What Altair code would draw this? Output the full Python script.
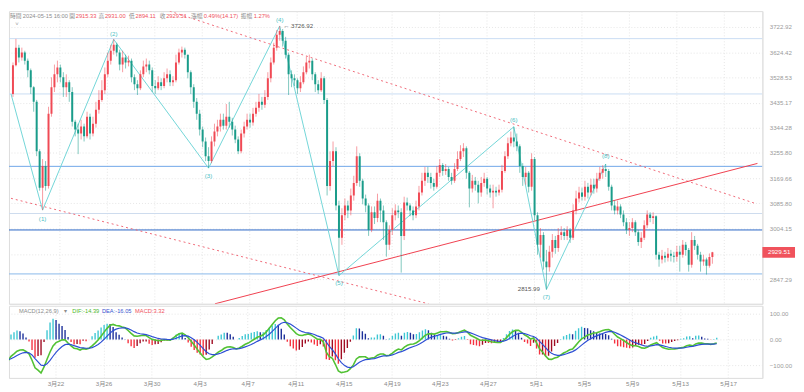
import altair as alt
import pandas as pd

FONT = "Liberation Sans, Noto Sans CJK TC, sans-serif"

# ---------------- data (6h candles) ----------------
first_open = 3467.0
closes = [3574, 3642, 3604, 3623, 3592, 3555, 3492, 3438, 3262, 3138,
          3211, 3144, 3395, 3492, 3540, 3566, 3529, 3492, 3510, 3474,
          3366, 3338, 3324, 3349, 3314, 3384, 3324, 3359, 3409, 3445,
          3481, 3540, 3592, 3630, 3653, 3623, 3577, 3604, 3585, 3592,
          3529, 3503, 3488, 3540, 3570, 3577, 3555, 3496, 3488, 3510,
          3496, 3525, 3540, 3510, 3518, 3585, 3623, 3634, 3615, 3548,
          3492, 3438, 3395, 3338, 3296, 3245, 3228, 3296, 3331, 3349,
          3373, 3352, 3384, 3366, 3338, 3303, 3262, 3324, 3349, 3373,
          3363, 3395, 3416, 3438, 3427, 3456, 3525, 3585, 3642, 3692,
          3707, 3669, 3615, 3540, 3525, 3518, 3488, 3510, 3548, 3585,
          3592, 3540, 3503, 3481, 3525, 3445, 3144, 3228, 3262, 3079,
          2975, 3047, 3079, 3063, 3112, 3154, 3245, 3161, 3102, 3079,
          3000, 3057, 3038, 3095, 3063, 3025, 2953, 3000, 3047, 3063,
          3057, 2981, 3089, 3079, 3063, 3047, 3076, 3122, 3161, 3188,
          3174, 3154, 3141, 3188, 3215, 3194, 3201, 3174, 3161, 3201,
          3235, 3262, 3272, 3188, 3135, 3161, 3148, 3122, 3154, 3168,
          3135, 3122, 3128, 3122, 3131, 3194, 3245, 3290, 3310, 3296,
          3279, 3211, 3174, 3188, 3141, 3235, 3047, 2953, 2984, 2901,
          2883, 2931, 2968, 2943, 2984, 2993, 2981, 3000, 2975, 3063,
          3102, 3122, 3108, 3141, 3122, 3148, 3135, 3168, 3188, 3201,
          3194, 3141, 3079, 3063, 3076, 3050, 3025, 3000, 3006, 3025,
          2993, 2962, 2975, 3015, 3050, 3038, 3044, 2922, 2907, 2919,
          2913, 2925, 2919, 2916, 2931, 2922, 2953, 2937, 2891, 2968,
          2950, 2922, 2901, 2907, 2888, 2915.33, 2929.51]
highs = [3585, 3676, 3653, 3642, 3630, 3600, 3562, 3496, 3445, 3269,
         3235, 3228, 3420, 3529, 3577, 3592, 3577, 3548, 3540, 3518,
         3492, 3373, 3359, 3373, 3359, 3402, 3395, 3384, 3438, 3481,
         3518, 3566, 3623, 3653, 3676, 3661, 3634, 3630, 3615, 3611,
         3600, 3540, 3518, 3555, 3592, 3600, 3592, 3566, 3518, 3533,
         3525, 3548, 3562, 3555, 3533, 3615, 3638, 3646, 3642, 3615,
         3555, 3503, 3452, 3409, 3349, 3310, 3276, 3314, 3359, 3373,
         3395, 3395, 3430, 3438, 3380, 3352, 3314, 3338, 3366, 3395,
         3395, 3416, 3438, 3467, 3456, 3481, 3548, 3604, 3661, 3711,
         3726.92, 3715, 3684, 3623, 3555, 3540, 3525, 3533, 3570, 3608,
         3615, 3600, 3548, 3518, 3548, 3533, 3452, 3262, 3296, 3276,
         3095, 3070, 3102, 3095, 3135, 3178, 3279, 3255, 3168, 3115,
         3086, 3076, 3076, 3118, 3102, 3079, 3031, 3015, 3070, 3083,
         3079, 3070, 3108, 3105, 3086, 3076, 3095, 3144, 3188, 3208,
         3208, 3188, 3168, 3211, 3235, 3221, 3218, 3208, 3188, 3221,
         3262, 3283, 3290, 3279, 3194, 3181, 3174, 3161, 3174, 3188,
         3174, 3148, 3148, 3141, 3148, 3215, 3262, 3310, 3331, 3348,
         3324, 3286, 3221, 3208, 3194, 3255, 3242, 3057, 3006, 2993,
         2937, 2950, 2987, 2981, 3006, 3012, 3006, 3012, 3006, 3083,
         3128, 3141, 3138, 3161, 3154, 3168, 3168, 3188, 3208, 3214,
         3218, 3201, 3148, 3095, 3095, 3083, 3063, 3038, 3025, 3038,
         3031, 3000, 2993, 3031, 3063, 3057, 3057, 3047, 2931, 2937,
         2931, 2943, 2937, 2931, 2950, 2950, 2968, 2962, 2943, 2993,
         2981, 2956, 2931, 2922, 2913, 2926, 2931.00]
lows = [3456, 3570, 3585, 3592, 3577, 3529, 3467, 3402, 3245, 3128,
        3064, 3128, 3135, 3384, 3474, 3510, 3510, 3456, 3456, 3438,
        3349, 3314, 3252, 3303, 3296, 3307, 3303, 3314, 3345, 3395,
        3438, 3467, 3529, 3577, 3615, 3608, 3555, 3548, 3562, 3570,
        3510, 3481, 3463, 3481, 3529, 3548, 3540, 3474, 3467, 3481,
        3481, 3488, 3510, 3496, 3496, 3510, 3577, 3604, 3600, 3525,
        3467, 3416, 3373, 3317, 3276, 3228, 3204, 3221, 3279, 3314,
        3331, 3338, 3338, 3345, 3317, 3290, 3252, 3255, 3310, 3338,
        3345, 3352, 3384, 3402, 3409, 3416, 3445, 3510, 3577, 3630,
        3669, 3646, 3600, 3463, 3492, 3496, 3467, 3474, 3503, 3540,
        3562, 3518, 3474, 3467, 3474, 3430, 3112, 3128, 3211, 3063,
        2858, 2953, 3031, 3038, 3047, 3095, 3144, 3141, 3083, 3057,
        2981, 2993, 3019, 3025, 3025, 2968, 2916, 2937, 2984, 3031,
        3038, 2867, 2968, 3063, 3044, 3031, 3038, 3063, 3112, 3144,
        3154, 3135, 3128, 3135, 3174, 3178, 3181, 3161, 3148, 3154,
        3194, 3228, 3242, 3168, 3073, 3122, 3128, 3086, 3108, 3141,
        3115, 3105, 3070, 3108, 3112, 3122, 3188, 3235, 3279, 3276,
        3262, 3188, 3144, 3148, 3122, 3128, 3031, 2922, 2913, 2876,
        2815.99, 2870, 2913, 2925, 2931, 2968, 2968, 2968, 2959, 2968,
        3050, 3089, 3095, 3095, 3102, 3112, 3118, 3122, 3161, 3168,
        3174, 3128, 3063, 3050, 3050, 3038, 3012, 2987, 2981, 2993,
        2981, 2950, 2943, 2968, 3006, 3025, 3019, 2907, 2885, 2895,
        2898, 2901, 2901, 2898, 2901, 2870, 2913, 2919, 2870, 2882,
        2937, 2907, 2870, 2888, 2861, 2882, 2894.11]

ytick_values = [3722.92, 3624.42, 3528.53, 3435.17, 3344.28, 3255.80,
                3169.66, 3085.80, 3004.15, 2924.65, 2847.29]
macd_ticks = [100, 0, -100]
date_labels = ["3月22", "3月26", "3月30", "4月3", "4月7", "4月11", "4月15",
               "4月19", "4月23", "4月27", "5月1", "5月5", "5月9", "5月13", "5月17"]

level_prices = [3677, 3467, 3210, 3053, 3000, 2863]
level_colors = ["#c9ddf3", "#c9ddf3", "#6fa6e8", "#cddcee", "#2a67c6", "#8ab8ea"]

wave_idx = [-0.66, 10, 34, 66, 90, 110, 169, 180, 200]
wave_price = [3467, 3064, 3674, 3204, 3726.92, 2858, 3348, 2815.99, 3218]
wave_names = ["(1)", "(2)", "(3)", "(4)", "(5)", "(6)", "(7)", "(8)"]
wave_label_price = [3036, 3697, 3176, 3752, 2835, 3373, 2794, 3244]

upper_dash = ([52.9, 250.5], [3786.1, 3085.8])
lower_dash = ([-0.66, 140.2], [3102.7, 2773.4])
support_line = ([68.15, 251.2], [2773.4, 3220.0])

# MACD indicator state read at the left edge of the picture
ema12_start, ema26_start, dea_start = 3560.0, 3656.0, -77.0

# ---------------- frames ----------------
UP, DOWN = "#f04a55", "#1a9c8a"
n = len(closes)
opens = [first_open] + closes[:-1]
idx = list(range(n))
df = pd.DataFrame({"i": idx, "open": opens, "high": highs, "low": lows, "close": closes})
df["col"] = [UP if c >= o else DOWN for o, c in zip(opens, closes)]

# MACD(12,26,9) of the chart's 4h bars, expressed for 6h bars (same time spans)
bars_ratio = 4.0 / 6.0
a12 = 2 / (12 * bars_ratio + 1)
a26 = 2 / (26 * bars_ratio + 1)
a9 = 2 / (9 * bars_ratio + 1)
e12, e26, dea = ema12_start, ema26_start, dea_start
difs, deas = [], []
for c in closes:
    e12 += a12 * (c - e12)
    e26 += a26 * (c - e26)
    d = e12 - e26
    dea += a9 * (d - dea)
    difs.append(d)
    deas.append(dea)
hist = [2 * (d - e) for d, e in zip(difs, deas)]
hcol = []
prev = hist[0]
for h in hist:
    if h >= 0:
        hcol.append("#3ec7d3" if h >= prev else "#1c2f9a")
    else:
        hcol.append("#f5323f" if h <= prev else "#a00c22")
    prev = h
mdf = pd.DataFrame({"i": idx, "dif": difs, "dea": deas, "hist": hist, "col": hcol})

W, H1, H2 = 762, 296, 73
xs = alt.Scale(domain=[0.33, 251.2], nice=False, zero=False)
ys = alt.Scale(type="log", domain=[2773.4, 3786.1], nice=False)
ms = alt.Scale(domain=[-150, 130.8], nice=False, zero=False)
tick_idx = [15.8 + 16 * k for k in range(len(date_labels))]
lab_arr = "[" + ",".join("'%s'" % s for s in date_labels) + "]"

GRID = dict(grid=True, gridColor="#e6e6e6", gridDash=[1, 2], domainColor="#e1e1e1", title=None)
x_main = alt.Axis(values=tick_idx, labels=False, ticks=False, domain=True, **GRID)
x_macd = alt.Axis(values=tick_idx, labelExpr=lab_arr + "[round((datum.value-15.8)/16)]",
                  ticks=False, labelColor="#8a8a8a", labelFontSize=6.3, labelFont=FONT,
                  labelPadding=3, **GRID)
y_main = alt.Axis(orient="right", values=ytick_values, ticks=False,
                  labelExpr="(datum.value > 2900 && datum.value < 2950) ? '' : format(datum.value, '.2f')",
                  labelColor="#9a9a9a", labelFontSize=6.2, labelFont=FONT, labelPadding=7, **GRID)
y_macd = alt.Axis(orient="right", values=macd_ticks, ticks=False, format=".2f",
                  labelColor="#9a9a9a", labelFontSize=6.2, labelFont=FONT, labelPadding=7, **GRID)

X = lambda f: alt.X(f, scale=xs, axis=x_main)
Y = lambda f: alt.Y(f, scale=ys, axis=y_main)

levels = alt.Chart(pd.DataFrame({"p": level_prices, "col": level_colors})).mark_rule(
    strokeWidth=1, clip=True).encode(y=Y("p:Q"), color=alt.Color("col:N", scale=None))

def seg(pts, color, dash=None, width=1.0):
    d = pd.DataFrame({"i": pts[0], "p": pts[1]})
    kw = dict(color=color, strokeWidth=width, clip=True)
    if dash:
        kw["strokeDash"] = dash
    return alt.Chart(d).mark_line(**kw).encode(x=X("i:Q"), y=Y("p:Q"))

upper = seg(upper_dash, "#f06a78", [2, 3])
lower = seg(lower_dash, "#f06a78", [2, 3])
support = seg(support_line, "#f0404f", None, 1.0)

wave = alt.Chart(pd.DataFrame({"i": wave_idx, "p": wave_price, "o": list(range(len(wave_idx)))})).mark_line(
    color="#72d6d8", strokeWidth=1, clip=True).encode(x=X("i:Q"), y=Y("p:Q"), order="o:Q")
wave_lab = alt.Chart(pd.DataFrame({"i": wave_idx[1:], "p": wave_label_price, "t": wave_names})).mark_text(
    color="#4dbfc5", fontSize=6.2, font=FONT, baseline="middle").encode(x=X("i:Q"), y=Y("p:Q"), text="t:N")

wick = alt.Chart(df).mark_rule(strokeWidth=1, opacity=0.55, clip=True).encode(
    x=X("i:Q"), y=Y("low:Q"), y2="high:Q", color=alt.Color("col:N", scale=None))
body = alt.Chart(df).mark_bar(size=2.0, clip=True).encode(
    x=X("i:Q"), y=Y("open:Q"), y2="close:Q", color=alt.Color("col:N", scale=None))

hi_i = highs.index(max(highs))
lo_i = lows.index(min(lows))
ann = pd.DataFrame({"i": [hi_i + 1.2], "p": [max(highs)], "t": ["\u2190 %.2f" % max(highs)]})
ann_hi = alt.Chart(ann).mark_text(align="left", baseline="middle", fontSize=6.2, font=FONT,
                                  color="#555555").encode(x=X("i:Q"), y=Y("p:Q"), text="t:N")
ann2 = pd.DataFrame({"i": [lo_i - 2.2], "p": [min(lows)], "t": ["%.2f" % min(lows)]})
ann_lo = alt.Chart(ann2).mark_text(align="right", baseline="middle", fontSize=6.2, font=FONT,
                                   color="#555555").encode(x=X("i:Q"), y=Y("p:Q"), text="t:N")

last = closes[-1]
box = alt.Chart(pd.DataFrame({"a": [last * 1.0058], "b": [last / 1.0058]})).mark_rect(
    color="#f0525c").encode(x=alt.value(762), x2=alt.value(795), y=Y("a:Q"), y2="b:Q")
box_t = alt.Chart(pd.DataFrame({"p": [last], "t": ["%.2f" % last]})).mark_text(
    color="white", fontSize=6.3, font=FONT, baseline="middle", align="center").encode(
    x=alt.value(779), y=Y("p:Q"), text="t:N")

one = pd.DataFrame({"a": [0]})
GREY, RED = "#8c8c8c", "#f0525c"
o_, h_, l_, c_ = opens[-1], highs[-1], lows[-1], closes[-1]
header_items = [("時間", 1, GREY), ("2024-05-15 16:00", 14, GREY), ("開", 61, GREY),
                ("%.2f" % o_, 67.5, RED), ("高", 90.5, GREY), ("%.2f" % h_, 97, RED),
                ("低", 121.5, GREY), ("%.2f" % l_, 128, RED), ("收", 152.5, GREY),
                ("%.2f" % c_, 159, RED), ("漲幅", 184, GREY),
                ("0.49%(14.17)", 197, RED), ("振幅", 234.5, GREY), ("1.27%", 247.5, RED)]
header = [alt.Chart(one).mark_text(text=t, align="left", baseline="middle", fontSize=5.8,
                                   font=FONT, color=col).encode(x=alt.value(px), y=alt.value(4.5))
          for t, px, col in header_items]
chev = alt.Chart(one).mark_text(text="˅", fontSize=6, font=FONT, color="#999999").encode(
    x=alt.value(8), y=alt.value(13))

main = alt.layer(levels, lower, upper, support, wave, wick, body, wave_lab, ann_hi, ann_lo,
                 box, box_t, chev, *header).properties(width=W, height=H1)

XM = lambda f: alt.X(f, scale=xs, axis=x_macd)
YM = lambda f: alt.Y(f, scale=ms, axis=y_macd)
hbars = alt.Chart(mdf).mark_rule(strokeWidth=1.4, clip=True).encode(
    x=XM("i:Q"), y=YM("hist:Q"), y2=alt.datum(0), color=alt.Color("col:N", scale=None))
difl = alt.Chart(mdf).mark_line(color="#52c234", strokeWidth=1.6, clip=True).encode(x=XM("i:Q"), y=YM("dif:Q"))
deal = alt.Chart(mdf).mark_line(color="#2d4fd4", strokeWidth=1.2, clip=True).encode(x=XM("i:Q"), y=YM("dea:Q"))
legend_items = [("MACD(12,26,9)", 10, "#8c8c8c"), ("▾", 56, "#8c8c8c"),
                ("DIF:-14.39", 64, "#4cb82a"), ("DEA:-16.05", 94, "#3a55d0"),
                ("MACD:3.32", 127.5, "#f0525c")]
legend = [alt.Chart(one).mark_text(text=t, align="left", baseline="middle", fontSize=5.8,
                                   font=FONT, color=col).encode(x=alt.value(px), y=alt.value(5))
          for t, px, col in legend_items]
macd = alt.layer(hbars, difl, deal, *legend).properties(width=W, height=H2)

chart = alt.vconcat(main, macd, spacing=0).properties(
    padding={"left": 0, "top": 0, "right": 0, "bottom": 0}
).configure_view(stroke=None).configure(background="white")

chart.save("out.html", embed_options={"renderer": "svg", "actions": False})
